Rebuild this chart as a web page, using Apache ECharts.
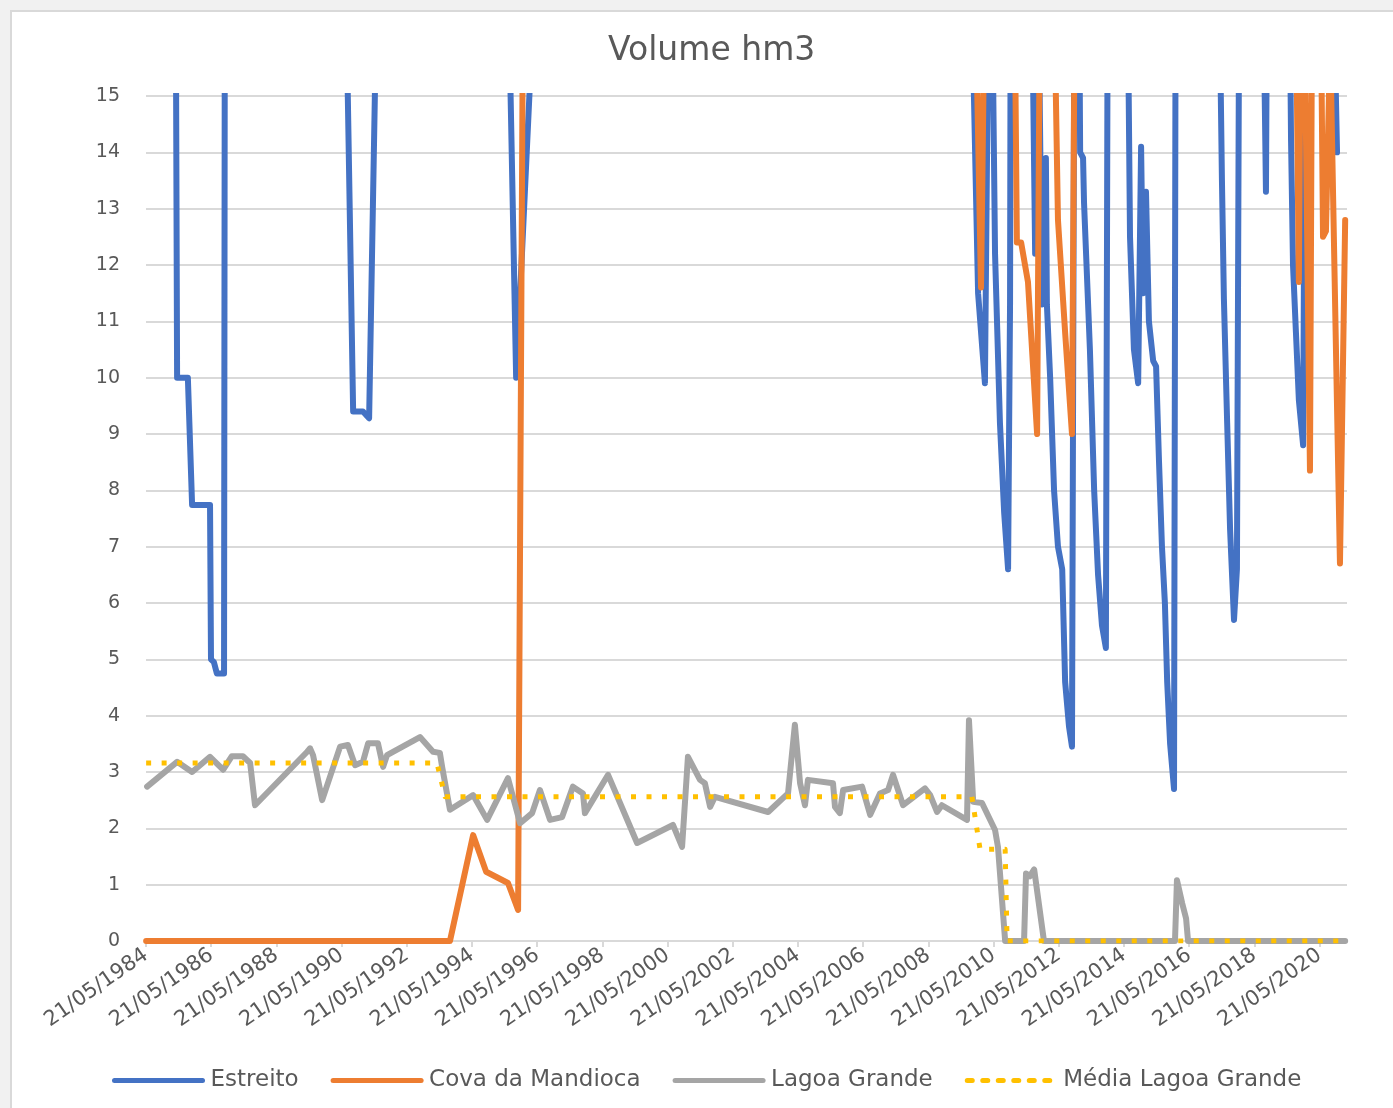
<!DOCTYPE html>
<html>
<head>
<meta charset="utf-8">
<title>Volume hm3</title>
<script src="https://cdn.jsdelivr.net/npm/echarts/dist/echarts.min.js"></script>
<style>
  html, body { margin: 0; padding: 0; background: #f1f1f1; }
  #card {
    position: absolute; left: 10px; top: 10px; width: 1400px; height: 1110px;
    background: #fff; border-left: 2px solid #d9d9d9; border-top: 2px solid #d9d9d9;
  }
  #main { position: absolute; left: 0; top: 0; width: 1393px; height: 1108px; }
</style>
</head>
<body>
<div id="card"></div>
<div id="main"></div>
<script>
// x values are decimal years, the axis starts on 21/05/1984
const BASE_YEAR = 1984.386;
const END_YEAR = 2021.226;
const xTickYears = [1984, 1986, 1988, 1990, 1992, 1994, 1996, 1998, 2000, 2002,
  2004, 2006, 2008, 2010, 2012, 2014, 2016, 2018, 2020];
const seriesNames = ['Estreito', 'Cova da Mandioca', 'Lagoa Grande', 'Média Lagoa Grande'];

// values above 15 run off the top of the chart (y max is fixed at 15)
const estreitoData = [
  [1984.39, 20], [1985.28, 20], [1985.34, 10.0], [1985.67, 10.0], [1985.80, 7.74], [1986.35, 7.74],
  [1986.38, 5.0], [1986.47, 4.95], [1986.56, 4.75], [1986.78, 4.75], [1986.81, 20],
  [1990.43, 20], [1990.74, 9.4], [1991.04, 9.4], [1991.23, 9.28], [1991.56, 20],
  [1995.40, 20], [1995.74, 10.0], [1996.17, 15.3], [1996.20, 20],
  [2009.60, 20], [2009.91, 11.5], [2010.12, 9.9], [2010.28, 20], [2010.43, 12.2], [2010.58, 9.2],
  [2010.71, 7.6], [2010.83, 6.6], [2010.89, 11.3], [2010.92, 20],
  [2011.50, 20], [2011.66, 12.2], [2011.78, 16], [2011.87, 11.3], [2011.99, 13.9], [2012.02, 11.3],
  [2012.12, 10.0], [2012.24, 8.0], [2012.36, 7.0], [2012.49, 6.6], [2012.58, 4.6], [2012.70, 3.8],
  [2012.79, 3.45], [2012.88, 20],
  [2012.98, 20], [2013.04, 14.0], [2013.13, 13.9], [2013.16, 13.1], [2013.34, 10.5], [2013.47, 8.0],
  [2013.59, 6.5], [2013.71, 5.6], [2013.83, 5.2], [2013.90, 20],
  [2014.45, 20], [2014.57, 12.5], [2014.69, 10.5], [2014.82, 9.9], [2014.91, 14.1], [2014.97, 11.5],
  [2015.06, 13.3], [2015.15, 11.0], [2015.28, 10.3], [2015.37, 10.2], [2015.46, 8.5], [2015.55, 7.0],
  [2015.64, 6.0], [2015.71, 4.6], [2015.80, 3.5], [2015.92, 2.7], [2015.98, 20],
  [2017.24, 20], [2017.39, 13.5], [2017.45, 11.4], [2017.55, 9.2], [2017.64, 7.3], [2017.76, 5.7],
  [2017.85, 6.6], [2017.94, 20],
  [2018.59, 20], [2018.74, 13.3], [2018.80, 20],
  [2019.42, 20], [2019.51, 14.2], [2019.57, 12.0], [2019.66, 10.8], [2019.75, 9.6], [2019.88, 8.8],
  [2019.97, 20],
  [2020.71, 20], [2020.92, 14.0]
];

const covaData = [
  [1984.39, 0], [1993.71, 0], [1994.42, 1.88], [1994.82, 1.23], [1995.49, 1.03], [1995.80, 0.55],
  [1995.98, 20],
  [2009.72, 20], [2010.00, 11.6], [2010.18, 20],
  [2010.98, 20], [2011.10, 12.4], [2011.23, 12.4], [2011.44, 11.7], [2011.72, 9.0], [2011.84, 20],
  [2012.15, 20], [2012.36, 12.8], [2012.58, 10.8], [2012.79, 9.0], [2012.91, 20],
  [2019.60, 20], [2019.75, 11.7], [2019.85, 20], [2019.91, 20], [2020.09, 8.35], [2020.18, 20],
  [2020.37, 20], [2020.49, 12.5], [2020.58, 12.6], [2020.71, 16], [2021.01, 6.7], [2021.17, 12.8]
];

const lagoaData = [
  [1984.42, 2.74], [1985.34, 3.18], [1985.80, 3.0], [1986.35, 3.27], [1986.75, 3.04], [1987.02, 3.28],
  [1987.36, 3.28], [1987.58, 3.16], [1987.73, 2.41], [1989.33, 3.36], [1989.42, 3.42], [1989.51, 3.3],
  [1989.79, 2.5], [1990.34, 3.45], [1990.58, 3.48], [1990.80, 3.12], [1991.04, 3.18], [1991.20, 3.51],
  [1991.50, 3.51], [1991.66, 3.09], [1991.78, 3.3], [1992.79, 3.62], [1993.19, 3.36], [1993.40, 3.34],
  [1993.47, 3.09], [1993.71, 2.33], [1994.42, 2.59], [1994.85, 2.15], [1995.49, 2.89], [1995.86, 2.09],
  [1996.23, 2.27], [1996.47, 2.68], [1996.78, 2.15], [1997.15, 2.2], [1997.48, 2.74], [1997.79, 2.62],
  [1997.85, 2.27], [1998.56, 2.95], [1999.45, 1.74], [2000.55, 2.06], [2000.83, 1.67], [2001.01, 3.27],
  [2001.38, 2.86], [2001.53, 2.8], [2001.69, 2.38], [2001.84, 2.56], [2003.47, 2.29], [2004.08, 2.62],
  [2004.29, 3.84], [2004.45, 2.8], [2004.60, 2.41], [2004.69, 2.86], [2005.46, 2.8], [2005.52, 2.38],
  [2005.67, 2.27], [2005.77, 2.68], [2006.35, 2.74], [2006.60, 2.24], [2006.90, 2.62], [2007.15, 2.68],
  [2007.30, 2.95], [2007.61, 2.41], [2008.28, 2.71], [2008.44, 2.59], [2008.65, 2.29], [2008.80, 2.41],
  [2009.57, 2.15], [2009.63, 3.92], [2009.76, 2.47], [2010.03, 2.45], [2010.43, 1.97], [2010.52, 1.67],
  [2010.74, 0], [2011.32, 0], [2011.38, 1.2], [2011.50, 1.15], [2011.63, 1.27], [2011.93, 0],
  [2015.95, 0], [2016.01, 1.08], [2016.17, 0.67], [2016.29, 0.4], [2016.35, 0], [2021.17, 0]
];

const mediaData = [
  [1984.39, 3.16], [1993.31, 3.16], [1993.56, 2.56], [2009.72, 2.56], [2009.97, 1.63],
  [2010.74, 1.63], [2010.80, 0], [2021.17, 0]
];

const FONT = 'DejaVu Sans';
const TEXT_COLOR = '#595959';
const GRID_COLOR = '#d9d9d9';

function toAxis(pairs) {
  return pairs.map(p => [p[0] - BASE_YEAR, p[1]]);
}

function lineSeries(name, data, color, extra) {
  return {
    name: name,
    type: 'line',
    data: toAxis(data),
    symbol: 'none',
    clip: true,
    itemStyle: { color: color },
    lineStyle: Object.assign({ color: color, width: 6, join: 'round', cap: 'round' }, extra || {})
  };
}

const tickOffsets = xTickYears.map(y => y - 1984);

let myChart = echarts.init(document.getElementById('main'));
myChart.setOption({
  animation: false,
  title: {
    text: 'Volume hm3',
    left: 603,
    top: 30,
    textStyle: { fontFamily: FONT, fontSize: 33, fontWeight: 'normal', color: TEXT_COLOR }
  },
  legend: {
    data: seriesNames,
    left: 107,
    top: 1064,
    itemWidth: 88,
    itemHeight: 14,
    itemGap: 32,
    itemStyle: { opacity: 0 },
    lineStyle: { width: 5, cap: 'round' },
    textStyle: { fontFamily: FONT, fontSize: 23, color: TEXT_COLOR, padding: [0, 0, 0, 3] }
  },
  grid: { left: 146, top: 96, right: 46, bottom: 167, containLabel: false, outerBoundsMode: 'none' },
  xAxis: {
    type: 'value',
    min: 0,
    max: END_YEAR - BASE_YEAR,
    interval: 2,
    axisLine: { show: true, lineStyle: { color: GRID_COLOR, width: 2 } },
    axisTick: { show: true, length: 6, customValues: tickOffsets, lineStyle: { color: GRID_COLOR, width: 2 } },
    splitLine: { show: false },
    axisLabel: {
      customValues: tickOffsets,
      rotate: 35,
      margin: 12,
      fontFamily: FONT,
      fontSize: 21,
      color: TEXT_COLOR,
      formatter: v => '21/05/' + (1984 + Math.round(v))
    }
  },
  yAxis: {
    type: 'value',
    min: 0,
    max: 15,
    interval: 1,
    axisLine: { show: false },
    axisTick: { show: false },
    splitLine: { lineStyle: { color: GRID_COLOR, width: 2 } },
    axisLabel: { fontFamily: FONT, fontSize: 19, color: TEXT_COLOR, margin: 26 }
  },
  series: [
    lineSeries(seriesNames[0], estreitoData, '#4472C4'),
    lineSeries(seriesNames[1], covaData, '#ED7D31'),
    lineSeries(seriesNames[2], lagoaData, '#A5A5A5'),
    lineSeries(seriesNames[3], mediaData, '#FFC000', { width: 5, type: [5, 10.5], cap: 'butt' })
  ]
});
</script>
</body>
</html>
